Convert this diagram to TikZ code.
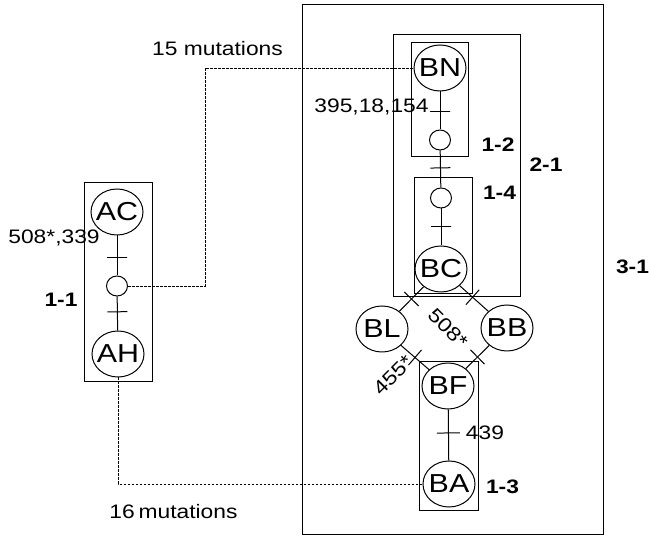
\documentclass[tikz,border=0pt]{standalone}
\usepackage{fontspec}
\setmainfont{Liberation Sans}
\usetikzlibrary{shapes.geometric}
\newcommand{\sx}[1]{\scalebox{1.17}[1]{#1}}
\begin{document}
\begin{tikzpicture}[x=1pt,y=-1pt,
  lw/.style={line width=1pt},
  boxst/.style={draw, line width=1pt, rectangle, inner sep=0pt, outer sep=0pt},
  biglab/.style={font=\fontsize{26}{26}\selectfont, inner sep=0pt},
  big/.style={draw, ellipse, line width=1pt, minimum width=52pt, minimum height=46pt, inner sep=0pt,
     label={[biglab]center:{\sx{#1}}}},
  small/.style={draw, ellipse, line width=1pt, minimum width=21pt, minimum height=20pt, inner sep=0pt},
  tick/.style={draw, line width=1pt, rectangle, minimum width=0pt, minimum height=20pt, inner sep=0pt, outer sep=0pt, sloped},
  dashconn/.style={line width=0.8pt, dash pattern=on 2.5pt off 1.5pt},
  lab/.style={font=\fontsize{19.5}{20}\selectfont, inner sep=0pt},
  blab/.style={font=\fontsize{19.5}{20}\selectfont\bfseries, inner sep=0pt}
]
\useasboundingbox (0,0) rectangle (649,537);
\fill[white] (0,0) rectangle (649,537);

% boxes
\node[boxst, minimum width=301pt, minimum height=530pt] (b31) at (452.5,270) {};
\node[boxst, minimum width=127pt, minimum height=262pt] (b21) at (456.5,166) {};
\node[boxst, minimum width=57pt, minimum height=114pt] (b12) at (439.5,100) {};
\node[boxst, minimum width=58pt, minimum height=116pt] (b14) at (443,236) {};
\node[boxst, minimum width=59pt, minimum height=149pt] (b13) at (448.5,436.5) {};
\node[boxst, minimum width=68pt, minimum height=199pt] (b11) at (118,282.5) {};

% haplotype nodes
\node[big=AC] (AC) at (117,212) {};
\node[small] (s11) at (117,286) {};
\node[big=AH] (AH) at (118,354) {};

\node[big=BN] (BN) at (440,68) {};
\node[small] (s12) at (440,140) {};
\node[small] (s14) at (441,198) {};
\node[big=BC] (BC) at (441,269) {};
\node[big=BL] (BL) at (382,329) {};
\node[big=BB] (BB) at (507,328) {};
\node[big=BF] (BF) at (448,386) {};
\node[big=BA] (BA) at (449,484) {};

% solid connectors with mutation ticks
\draw[lw] (AC) -- node[tick,pos=.55] (t1) {} (s11);
\draw[lw] (s11) -- node[tick,pos=.45] (t2) {} (AH);
\draw[lw] (BN) -- node[tick,pos=.52] (t3) {} (s12);
\draw[lw] (s12) -- node[tick,pos=.47] (t4) {} (s14);
\draw[lw] (s14) -- node[tick,pos=.49] (t5) {} (BC);
\draw[lw] (BC) -- node[tick,pos=.5] (t6) {} (BL);
\draw[lw] (BC) -- node[tick,pos=.45] (t7) {} (BB);
\draw[lw] (BL) -- node[tick,pos=.5] (t8) {} (BF);
\draw[lw] (BB) -- node[tick,pos=.5] (t9) {} (BF);
\draw[lw] (BF) -- node[tick,pos=.46,minimum height=23pt] (t10) {} (BA);

% dashed connectors between networks
\coordinate (d1) at (205,286);
\draw[dashconn] (s11) -- (d1) |- (BN);
\draw[dashconn] (AH) |- (BA);

% labels
\node[lab] (m15) at (217.5,49) {\sx{15 mutations}};
\node[lab] (m16) at (173.5,512) {\sx{16\,mutations}};
\node[lab] (l395) at (371.5,107) {\sx{395,18,154}};
\node[lab] (l508a) at (54,238) {\sx{508*,339}};
\node[lab] (l439) at (485,433) {\sx{439}};
\node[lab, rotate=-45] (l508b) at (448,328) {\sx{508*}};
\node[lab, rotate=45] (l455) at (393,375) {\sx{455*}};

\node[blab] (n11) at (61,300) {\sx{1-1}};
\node[blab] (n12) at (498,145) {\sx{1-2}};
\node[blab] (n14) at (499.5,193) {\sx{1-4}};
\node[blab] (n21) at (546,165) {\sx{2-1}};
\node[blab] (n31) at (632.5,267) {\sx{3-1}};
\node[blab] (n13) at (502.5,487) {\sx{1-3}};
\end{tikzpicture}
\end{document}
